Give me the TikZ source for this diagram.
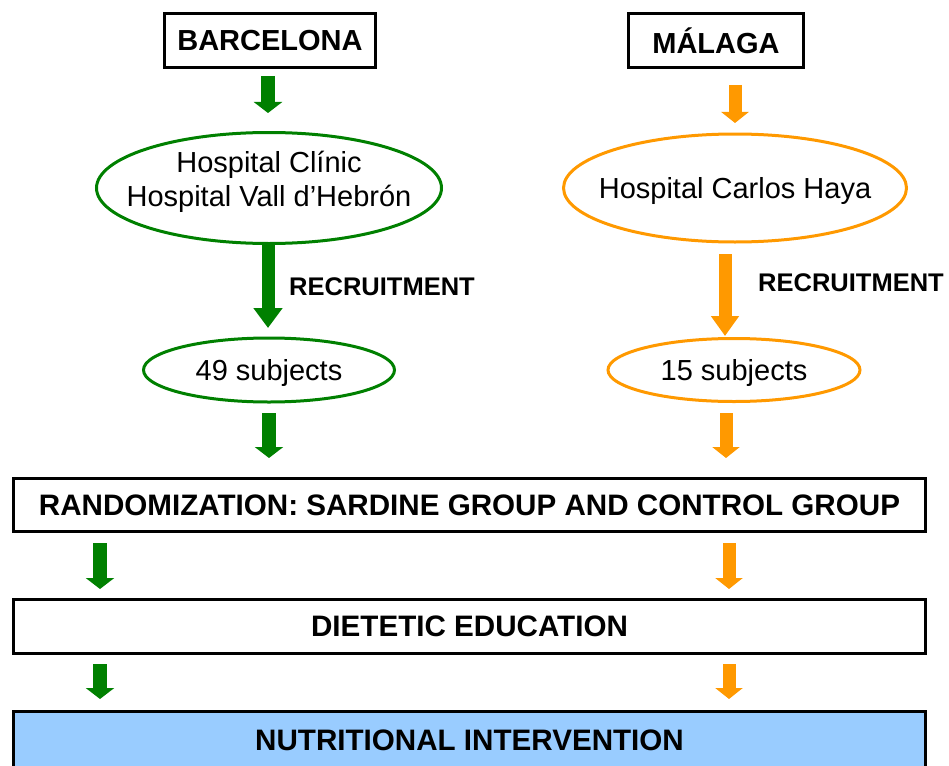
\documentclass[tikz,border=0pt]{standalone}
\usepackage{fontspec}
\setmainfont{Liberation Sans}
\usetikzlibrary{arrows.meta,shapes.geometric}
\definecolor{bcngreen}{HTML}{008000}
\definecolor{mlgorange}{HTML}{FF9900}
\definecolor{intblue}{HTML}{99CCFF}

\begin{document}
\begin{tikzpicture}[x=1pt,y=-1pt,
  cityframe/.style={draw=black,line width=3pt,fill=white,inner sep=0pt,
    font=\fontsize{29}{32}\selectfont\bfseries},
  stagefont/.style={font=\fontsize{29.6}{32}\selectfont\bfseries},
  stageframe/.style={draw=black,line width=3pt,fill=white,inner sep=0pt,
    minimum width=912pt,stagefont},
  site/.style={ellipse,line width=3pt,inner sep=0pt},
  plain/.style={font=\fontsize{29}{34.5}\selectfont,align=center,inner sep=0pt},
  recruit/.style={font=\fontsize{25.5}{28}\selectfont\bfseries,inner sep=0pt},
  garrow/.style={bcngreen,line width=14pt,-{Triangle[width=28pt,length=11pt]}},
  oarrow/.style={mlgorange,line width=13pt,-{Triangle[width=27pt,length=11pt]}},
  garrowlong/.style={bcngreen,line width=13pt,-{Triangle[width=28pt,length=20pt]}},
  oarrowlong/.style={mlgorange,line width=13pt,-{Triangle[width=27pt,length=20pt]}},
]
\useasboundingbox (0,0) rectangle (949,765);

% city headers
\node[cityframe,minimum width=211pt,minimum height=54pt] (bcn) at (270,40.5) {BARCELONA};
\node[cityframe,minimum width=175pt,minimum height=54pt] (mlg) at (716,41) {MÁLAGA};

% hospitals
\node[site,draw=bcngreen,minimum width=345pt,minimum height=111pt] (bcnhosp) at (269,188) {};
\node[plain] (bcnhosptxt) at ([yshift=6pt]bcnhosp.center) {Hospital Clínic\\Hospital Vall d’Hebrón};
\node[site,draw=mlgorange,minimum width=343pt,minimum height=108pt] (mlghosp) at (735,188) {};
\node[plain] (mlghosptxt) at ([yshift=-3pt]mlghosp.center) {Hospital Carlos Haya};

% recruited subjects
\node[site,draw=bcngreen,minimum width=251pt,minimum height=64pt] (bcnsub) at (269,370) {};
\node[plain] (bcnsubtxt) at ([yshift=-3pt]bcnsub.center) {49 subjects};
\node[site,draw=mlgorange,minimum width=252pt,minimum height=63pt] (mlgsub) at (734,370) {};
\node[plain] (mlgsubtxt) at ([yshift=-3pt]mlgsub.center) {15 subjects};

\node[recruit] (bcnrec) at (382,287) {RECRUITMENT};
\node[recruit] (mlgrec) at (851,283) {RECRUITMENT};

% study stages
\node[stageframe,minimum height=53pt] (rand) at (469.5,505) {RANDOMIZATION: SARDINE GROUP AND CONTROL GROUP};
\node[stageframe,minimum height=54pt] (diet) at (469.5,626.5) {DIETETIC EDUCATION};
\node[draw=black,line width=3pt,fill=intblue,minimum width=912pt,minimum height=58pt,inner sep=0pt] (nutr) at (469.5,740) {};
\node[stagefont,inner sep=0pt] (nutrtxt) at (469.5,740) {NUTRITIONAL INTERVENTION};

% arrow end points
\coordinate (ga1) at (268,76);   \coordinate (gb1) at (268,113);
\coordinate (oa1) at (735,85);   \coordinate (ob1) at (735,123);
\coordinate (ga2) at (268,244);  \coordinate (gb2) at (268,328);
\coordinate (oa2) at (725,254);  \coordinate (ob2) at (725,336);
\coordinate (ga3) at (269,413);  \coordinate (gb3) at (269,458);
\coordinate (oa3) at (726,413);  \coordinate (ob3) at (726,458);
\coordinate (ga4) at (100,543);  \coordinate (gb4) at (100,589);
\coordinate (oa4) at (729,543);  \coordinate (ob4) at (729,589);
\coordinate (ga5) at (100,664);  \coordinate (gb5) at (100,699);
\coordinate (oa5) at (729,664);  \coordinate (ob5) at (729,699);

\draw[garrow] (ga1) -- (gb1);
\draw[oarrow] (oa1) -- (ob1);
\draw[garrowlong] (ga2) -- (gb2);
\draw[oarrowlong] (oa2) -- (ob2);
\draw[garrow] (ga3) -- (gb3);
\draw[oarrow] (oa3) -- (ob3);
\draw[garrow] (ga4) -- (gb4);
\draw[oarrow] (oa4) -- (ob4);
\draw[garrow] (ga5) -- (gb5);
\draw[oarrow] (oa5) -- (ob5);
\end{tikzpicture}
\end{document}
